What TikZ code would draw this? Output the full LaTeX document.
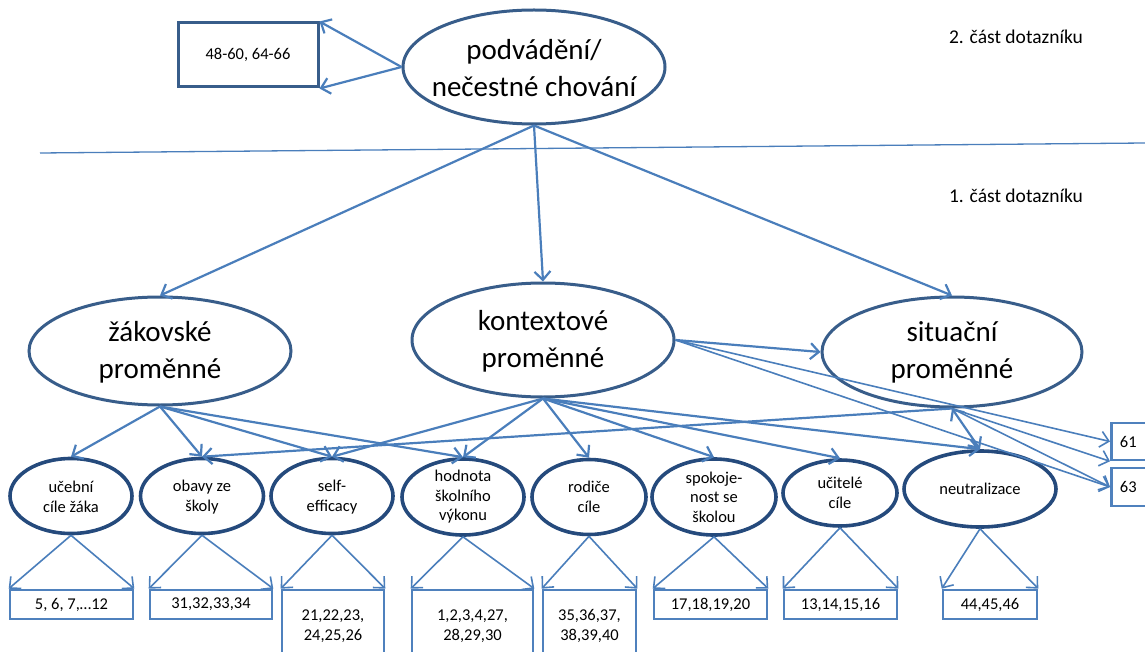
\documentclass[tikz,border=0pt]{standalone}
\usepackage{fontspec}
\setmainfont{Carlito}
\usetikzlibrary{shapes.geometric,arrows.meta}
\definecolor{lineblue}{HTML}{4A7EBB}
\definecolor{ringblue}{HTML}{385D8A}
\definecolor{navyring}{HTML}{254A7C}
\definecolor{boxblue}{HTML}{4F81BD}

\begin{document}
\begin{tikzpicture}[x=1pt,y=-1pt,
  bigell/.style={ellipse, draw=ringblue, line width=3pt, inner sep=0pt},
  smallell/.style={ellipse, draw=navyring, line width=3.6pt, inner sep=0pt},
  bigtxt/.style={font=\fontsize{29}{37}\selectfont, align=center, inner sep=0pt},
  smalltxt/.style={font=\fontsize{16.5}{19.5}\selectfont, align=center, inner sep=0pt},
  numbox/.style={draw=boxblue, line width=2.6pt, font=\fontsize{16.5}{19.5}\selectfont, align=center, inner sep=0pt},
  parttxt/.style={font=\fontsize{19.5}{23}\selectfont, inner sep=0pt},
  tip/.tip={Straight Barb[length=8.5pt,width=16pt]},
  link/.style={draw=lineblue, line width=2.2pt, -tip},
  fine/.style={draw=lineblue, line width=1.6pt, -tip},
]
\useasboundingbox (0,0) rectangle (1145,652);

% ---- part 2 of the questionnaire
\node[bigell, minimum width=262pt, minimum height=114pt] (top) at (534,67) {};
\node[bigtxt] (topT) at (534,68) {podvádění/\\nečestné chování};
\node[draw=ringblue, line width=3pt, minimum width=140pt, minimum height=64pt,
      font=\fontsize{16.5}{19.5}\selectfont] (b0) at (248,55) {48-60, 64-66};
\node[parttxt] (part2) at (1016,37) {2. část dotazníku};

% ---- divider
\coordinate (divL) at (40,153);
\coordinate (divR) at (1145,143);
\draw[lineblue, line width=1.3pt] (divL) -- (divR);
\node[parttxt] (part1) at (1016,196) {1. část dotazníku};

% ---- main groups of variables
\node[bigell, minimum width=262pt, minimum height=108pt] (zak) at (160,351) {};
\node[bigtxt] (zakT) at (160,352) {žákovské\\proměnné};
\node[bigell, minimum width=262pt, minimum height=114pt] (kon) at (543,340) {};
\node[bigtxt] (konT) at (543,341) {kontextové\\proměnné};
\node[bigell, minimum width=260pt, minimum height=110pt] (sit) at (952,352) {};
\node[bigtxt] (sitT) at (952,352) {situační\\proměnné};

% ---- individual scales
\node[smallell, minimum width=122pt, minimum height=75pt] (uceb) at (71,496) {};
\node[smalltxt] (ucebT) at (71,497) {učební\\cíle žáka};
\node[smallell, minimum width=123pt, minimum height=75pt] (obav) at (202,496) {};
\node[smalltxt] (obavT) at (202,497) {obavy ze\\školy};
\node[smallell, minimum width=122pt, minimum height=75pt] (self) at (332,496) {};
\node[smalltxt] (selfT) at (332,497) {self-\\efficacy};
\node[smallell, minimum width=122pt, minimum height=76pt] (hodn) at (463,497) {};
\node[smalltxt] (hodnT) at (463,497) {hodnota\\školního\\výkonu};
\node[smallell, minimum width=114pt, minimum height=75pt] (rodi) at (589,497) {};
\node[smalltxt] (rodiT) at (589,497) {rodiče\\cíle};
\node[smallell, minimum width=124pt, minimum height=76pt] (spok) at (714,497) {};
\node[smalltxt] (spokT) at (714,497) {spokoje-\\nost se\\školou};
\node[smallell, minimum width=114pt, minimum height=66pt] (ucit) at (840,493) {};
\node[smalltxt] (ucitT) at (840,493) {učitelé\\cíle};
\node[smallell, minimum width=152pt, minimum height=76pt] (neut) at (980,489) {};
\node[smalltxt] (neutT) at (980,489) {neutralizace};

% ---- item numbers
\node[numbox, minimum width=123pt, minimum height=29pt] (n1) at (71.5,604.5) {5, 6, 7,…12};
\node[numbox, minimum width=122pt, minimum height=29pt] (n2) at (211,604.5) {31,32,33,34};
\node[numbox, minimum width=102pt, minimum height=72pt] (n3) at (333,626) {21,22,23,\\24,25,26};
\node[numbox, minimum width=121pt, minimum height=72pt] (n4) at (472.5,626) {1,2,3,4,27,\\28,29,30};
\node[numbox, minimum width=93pt, minimum height=72pt] (n5) at (589.5,626) {35,36,37,\\38,39,40};
\node[numbox, minimum width=113pt, minimum height=29pt] (n6) at (710.5,604.5) {17,18,19,20};
\node[numbox, minimum width=113pt, minimum height=29pt] (n7) at (840.5,604.5) {13,14,15,16};
\node[numbox, minimum width=94pt, minimum height=29pt] (n8) at (990,604.5) {44,45,46};
\node[numbox, minimum width=52pt, minimum height=37pt, anchor=west] (n61) at (1110,441.5) {\hspace*{-18pt}61};
\node[numbox, minimum width=52pt, minimum height=38pt, anchor=west] (n63) at (1110,487) {\hspace*{-18pt}63};

% ---- connectors, part 2
\draw[link] (top.west) -- (b0.north east);
\draw[link] (top.west) -- (b0.south east);
\draw[link] (top.south) -- (zak.north);
\draw[link] (top.south) -- (kon.north);
\draw[link] (top.south) -- (sit.north);

% ---- connectors between groups and scales
\draw[link] (zak.south) -- (uceb.north);
\draw[link] (zak.south) -- (obav.north);
\draw[link] (zak.south) -- (self.north);
\draw[link] (zak.south) -- (hodn.north);
\draw[link] (kon.south) -- (self.north);
\draw[link] (kon.south) -- (hodn.north);
\draw[link] (kon.south) -- (rodi.north);
\draw[link] (kon.south) -- (spok.north);
\draw[link] (kon.south) -- (ucit.north);
\draw[link] (kon.south) -- (neut.north);
\draw[link] (kon.east) -- (sit.west);
\draw[link] (sit.south) -- (obav.north);
\draw[link, tip-tip] (sit.south) -- (neut.north);
\draw[fine] (kon.east) -- (n61.west);
\draw[fine] (kon.east) -- (n63.west);
\draw[fine] (sit.south) -- (n61.south west);
\draw[fine] (sit.south) -- (n63.west);

% ---- connectors from scales to items
\foreach \s/\n in {uceb/n1, obav/n2, self/n3, hodn/n4, rodi/n5, spok/n6, ucit/n7, neut/n8}{
  \draw[fine] (\s.south) -- (\n.north west);
  \draw[fine] (\s.south) -- (\n.north east);
}
\end{tikzpicture}
\end{document}
